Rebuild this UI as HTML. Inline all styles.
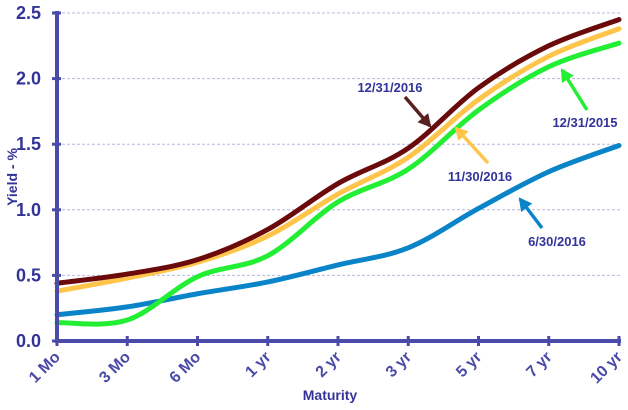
<!DOCTYPE html>
<html><head><meta charset="utf-8"><style>
html,body{margin:0;padding:0;background:#fff;width:628px;height:410px;overflow:hidden}
text{font-family:"Liberation Sans",sans-serif;font-weight:bold}
</style></head><body>
<svg id="chart" width="628" height="410" viewBox="0 0 628 410">
<g id="grid"></g>
<g id="series"></g>
<g id="axes"></g>
<g id="annot"></g>
<text x="17" y="177" transform="rotate(-90 17 177)" text-anchor="middle" font-size="14" fill="#333399">Yield - %</text>
<text x="330" y="400" text-anchor="middle" font-size="14" fill="#333399">Maturity</text>
</svg>
<script>
const categories=["1 Mo","3 Mo","6 Mo","1 yr","2 yr","3 yr","5 yr","7 yr","10 yr"];
const yTicks=[0,0.5,1.0,1.5,2.0,2.5];
const seriesNames=["6/30/2016","12/31/2015","11/30/2016","12/31/2016"];
const s_jun2016=[0.20,0.26,0.36,0.45,0.58,0.71,1.01,1.29,1.49];
const s_dec2015=[0.14,0.16,0.49,0.65,1.06,1.31,1.76,2.09,2.27];
const s_nov2016=[0.38,0.48,0.60,0.80,1.12,1.40,1.84,2.17,2.38];
const s_dec2016=[0.44,0.51,0.62,0.85,1.20,1.47,1.93,2.25,2.45];
const NS="http://www.w3.org/2000/svg";
const X0=57,X1=619,Y0=341,Y1=13;
const xs=i=>X0+i*(X1-X0)/(categories.length-1);
const ys=v=>Y0-v*(Y0-Y1)/2.5;
function mk(t,a,p){const e=document.createElementNS(NS,t);for(const k in a)e.setAttribute(k,a[k]);p.appendChild(e);return e;}
const grid=document.getElementById('grid'),axes=document.getElementById('axes'),ser=document.getElementById('series'),ann=document.getElementById('annot');
yTicks.forEach(v=>{
  if(v>0){const l=mk('line',{x1:X0,x2:622,y1:ys(v),y2:ys(v),stroke:'#b8b8dd','stroke-width':1,'stroke-dasharray':'3,2'},grid);
  
  }
  const t=mk('text',{x:41,y:ys(v)+6,'text-anchor':'end','font-size':18,fill:'#333399'},axes);t.textContent=v.toFixed(1);
  
  
  const tk=mk('line',{x1:X0-5,x2:X0+4,y1:ys(v),y2:ys(v),stroke:'#4a4aa8','stroke-width':3},axes);
  
  
});
categories.forEach((c,i)=>{
  const tk=mk('line',{x1:xs(i),x2:xs(i),y1:Y0-5,y2:Y0+5,stroke:'#4a4aa8','stroke-width':3},axes);
  
  
  const x=xs(i)+4,y=Y0+17;
  const t=mk('text',{x:x,y:y,'text-anchor':'end','font-size':16,fill:'#4a4aa8',transform:`rotate(-45 ${x} ${y})`},axes);t.textContent=c;
  
  
});
const ya=mk('line',{x1:X0,x2:X0,y1:Y1-2,y2:Y0+2,stroke:'#4a4aa8','stroke-width':4},axes);


const xa=mk('line',{x1:X0-2,x2:X1+2,y1:Y0,y2:Y0,stroke:'#4a4aa8','stroke-width':4},axes);


function smooth(vals){
  const p=vals.map((v,i)=>[xs(i),ys(v)]);let d=`M${p[0][0]},${p[0][1]}`;
  for(let i=0;i<p.length-1;i++){const a=p[i-1]||p[i],b=p[i],c=p[i+1],e=p[i+2]||c;
    d+=` C${b[0]+(c[0]-a[0])/6},${b[1]+(c[1]-a[1])/6} ${c[0]-(e[0]-b[0])/6},${c[1]-(e[1]-b[1])/6} ${c[0]},${c[1]}`;}
  return d;}
[[s_jun2016,'#0a84c8','line-6-30-2016'],[s_dec2015,'#22ee33','line-12-31-2015'],[s_nov2016,'#ffc44a','line-11-30-2016'],[s_dec2016,'#6b0a0a','line-12-31-2016']].forEach(([v,c,n])=>{
  const p=mk('path',{d:smooth(v),fill:'none',stroke:c,'stroke-width':5,'stroke-linecap':'round'},ser);
  
  
});
function label(txt,x,y,ax1,ay1,ax2,ay2,col,n){
  const t=mk('text',{x:x,y:y,'text-anchor':'middle','font-size':13,fill:'#333399'},ann);t.textContent=txt;
  
  
  const g=mk('g',{},ann);
  
  
  mk('line',{x1:ax1,y1:ay1,x2:ax2,y2:ay2,stroke:col,'stroke-width':3.5},g);
  const ang=Math.atan2(ay2-ay1,ax2-ax1),L=11,W=7;
  const bx=ax2-L*Math.cos(ang),by=ay2-L*Math.sin(ang);
  mk('polygon',{points:`${ax2+2*Math.cos(ang)},${ay2+2*Math.sin(ang)} ${bx-W*Math.sin(ang)},${by+W*Math.cos(ang)} ${bx+W*Math.sin(ang)},${by-W*Math.cos(ang)}`,fill:col},g);
}
label('12/31/2016',390,92,405,97,430,126,'#5a2020','annotation-12-31-2016');
label('12/31/2015',585,127,587,110,562,70,'#22ee33','annotation-12-31-2015');
label('11/30/2016',480,181,488,163,456,128,'#ffc44a','annotation-11-30-2016');
label('6/30/2016',557,246,542,228,520,199,'#0a84c8','annotation-6-30-2016');
</script>
</body></html>
